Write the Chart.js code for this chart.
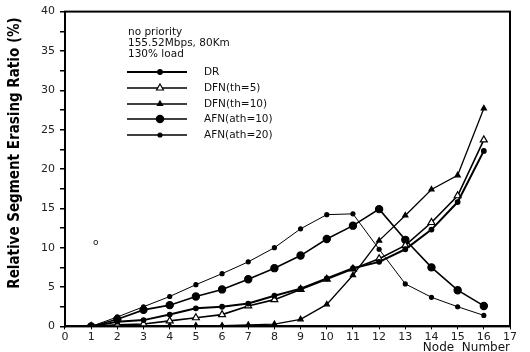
<!DOCTYPE html>
<html>
<head>
<meta charset="utf-8">
<script src="https://cdn.jsdelivr.net/npm/chart.js@4/dist/chart.umd.min.js"></script>
<style>
  html, body { margin: 0; padding: 0; background: #ffffff; }
  #wrap { width: 530px; height: 352px; }
</style>
</head>
<body>
<div id="wrap"><canvas id="c" width="530" height="352"></canvas></div>
<script>
const nodes = [1, 2, 3, 4, 5, 6, 7, 8, 9, 10, 11, 12, 13, 14, 15, 16];
const seriesNames = ["DR", "DFN(th=5)", "DFN(th=10)", "AFN(ath=10)", "AFN(ath=20)"];
const dr    = [0, 0.6, 0.8, 1.5, 2.3, 2.5, 2.9, 3.9, 4.8, 6.1, 7.4, 8.2, 9.8, 12.3, 15.8, 22.3];
const dfn5  = [0, 0.2, 0.3, 0.7, 1.1, 1.5, 2.6, 3.4, 4.7, 6.0, 7.3, 8.6, 10.3, 13.2, 16.6, 23.7];
const dfn10 = [0, 0, 0.1, 0.1, 0.1, 0.1, 0.2, 0.3, 0.9, 2.8, 6.5, 10.9, 14.1, 17.4, 19.2, 27.7];
const afn10 = [0, 0.9, 2.1, 2.7, 3.8, 4.7, 6.0, 7.4, 9.0, 11.1, 12.8, 14.9, 11.0, 7.5, 4.6, 2.6];
const afn20 = [0, 1.2, 2.5, 3.8, 5.3, 6.7, 8.2, 10.0, 12.4, 14.2, 14.3, 9.8, 5.4, 3.7, 2.5, 1.4];
const xTicks = [0, 1, 2, 3, 4, 5, 6, 7, 8, 9, 10, 11, 12, 13, 14, 15, 16, 17];
const yLabelTicks = [0, 5, 10, 15, 20, 25, 30, 35, 40];
const noteLines = ["no priority", "155.52Mbps, 80Km", "130% load"];
const xTitle = "Node  Number";
const yTitle = "Relative Segment Erasing Ratio (%)";

const pts = arr => nodes.map((n, i) => ({ x: n, y: arr[i] }));

const styles = [
  { data: dr,    pointStyle: 'circle',   radius: 2.3, fill: '#000', width: 2.0 },
  { data: dfn5,  pointStyle: 'triangle', radius: 4.0, fill: '#fff', width: 1.6 },
  { data: dfn10, pointStyle: 'triangle', radius: 3.0, fill: '#000', width: 1.3 },
  { data: afn10, pointStyle: 'circle',   radius: 3.6, fill: '#000', width: 1.6 },
  { data: afn20, pointStyle: 'circle',   radius: 2.0, fill: '#000', width: 1.0 }
];

const datasets = styles.map((s, i) => ({
  label: seriesNames[i],
  data: pts(s.data),
  borderColor: '#000',
  backgroundColor: s.fill,
  borderWidth: s.width,
  pointStyle: s.pointStyle,
  pointRadius: s.radius,
  pointBorderWidth: 1.2,
  pointBorderColor: '#000',
  pointBackgroundColor: s.fill,
  tension: 0
}));

const fontFace = "'DejaVu Sans', sans-serif";

const decor = {
  id: 'decor',
  afterDraw(chart) {
    const ctx = chart.ctx;
    const a = chart.chartArea;
    ctx.save();
    ctx.strokeStyle = '#000';
    ctx.lineWidth = 2;
    ctx.strokeRect(a.left, a.top, a.right - a.left, a.bottom - a.top);
    ctx.fillStyle = '#111';
    ctx.font = "10.5px " + fontFace;
    ctx.textBaseline = 'middle';
    ctx.textAlign = 'left';
    const nx = 128, ny = [32, 43, 54];
    noteLines.forEach((t, i) => ctx.fillText(t, nx, ny[i]));
    const ly = [72, 88, 104, 119, 135];
    datasets.forEach((d, i) => {
      const y = ly[i];
      ctx.strokeStyle = '#000';
      ctx.lineWidth = Math.max(1.5, d.borderWidth);
      ctx.beginPath();
      ctx.moveTo(127, y);
      ctx.lineTo(187, y);
      ctx.stroke();
      ctx.fillStyle = d.pointBackgroundColor;
      ctx.strokeStyle = '#000';
      ctx.lineWidth = 1.2;
      Chart.helpers.drawPoint(ctx, {
        pointStyle: d.pointStyle, radius: d.pointRadius, rotation: 0,
        borderWidth: 1.2
      }, 160, y);
      ctx.fillStyle = '#111';
      ctx.font = "10.5px " + fontFace;
      ctx.fillText(d.label, 204, y);
    });
    ctx.font = "9px " + fontFace;
    ctx.fillText("o", 93, 243);
    // y-axis title
    ctx.translate(15, 153);
    ctx.rotate(-Math.PI / 2);
    ctx.textAlign = 'center';
    ctx.fillStyle = '#000';
    ctx.font = "bold 15px 'DejaVu Sans Condensed', 'DejaVu Sans', sans-serif";
    ctx.fillText(yTitle, 0, 0);
    ctx.restore();
  }
};

new Chart(document.getElementById('c'), {
  type: 'line',
  data: { datasets },
  plugins: [decor],
  options: {
    responsive: false,
    animation: false,
    layout: { padding: { top: 6, right: 20, bottom: 0, left: 36 } },
    plugins: { legend: { display: false }, tooltip: { enabled: false } },
    scales: {
      x: {
        type: 'linear', min: 0, max: 17,
        afterBuildTicks: s => { s.ticks = xTicks.map(v => ({ value: v })); },
        grid: { drawOnChartArea: false, drawTicks: true, tickLength: 3, color: '#000', lineWidth: 1 },
        border: { color: '#000', width: 2 },
        ticks: { color: '#222', font: { family: fontFace, size: 11 }, padding: 1, maxRotation: 0, autoSkip: false },
        title: { display: true, text: xTitle, align: 'end', color: '#111',
                 font: { family: fontFace, size: 12 }, padding: { top: -4, bottom: -3 } }
      },
      y: {
        type: 'linear', min: 0, max: 40,
        ticks: {
          stepSize: 2.5, color: '#222', font: { family: fontFace, size: 11 }, padding: 5,
          callback: v => yLabelTicks.includes(v) ? String(v) : ''
        },
        grid: { drawOnChartArea: false, drawTicks: true, tickLength: 5, color: '#000', lineWidth: 1.5 },
        border: { color: '#000', width: 2 },
        title: { display: false }
      }
    }
  }
});
</script>
</body>
</html>
